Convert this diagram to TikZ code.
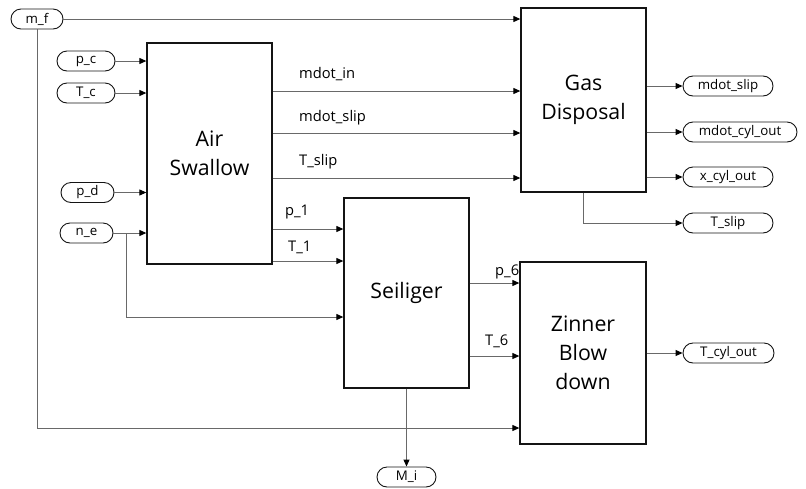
\documentclass[tikz,border=0pt]{standalone}
\usepackage{fontspec}
\setmainfont{Open Sans}
\usepackage{tikz}
\usetikzlibrary{
  arrows.meta,
  positioning,
  calc
}
\definecolor{WireGray}{RGB}{105,105,105}
\definecolor{BoxBlack}{RGB}{20,20,20}
\newcommand{\blocktext}{\fontsize{21.3}{29}\selectfont}
\newcommand{\wiretext}{\fontsize{14.7}{17}\selectfont}
\newcommand{\porttext}{\fontsize{13.3}{16}\selectfont}
\tikzset{
  blocknode/.style={draw=BoxBlack,line width=1.3pt,fill=white,align=center,font=\blocktext,inner sep=0pt},
  portnode/.style={draw=BoxBlack,line width=0.9pt,rounded corners=10pt,minimum height=20pt,inner sep=0pt,align=center,font=\porttext},
  wire/.style={-{Triangle[length=7pt,width=6pt,color=black]},line width=1pt,draw=WireGray},
  wirelabel/.style={font=\wiretext,anchor=base west,inner sep=0pt}
}

\begin{document}
\begin{tikzpicture}[x=1pt,y=-1pt]
\useasboundingbox (0,0) rectangle (806,488);

% blocks
\node[blocknode, minimum width=125pt, minimum height=221pt] (air) at (209.5,153.5) {Air\\Swallow};
\node[blocknode, minimum width=125pt, minimum height=184pt] (gas) at (583.5,100) {Gas\\Disposal};
\node[blocknode, minimum width=125pt, minimum height=190pt] (seil) at (406.5,293) {Seiliger};
\node[blocknode, minimum width=126pt, minimum height=182pt] (zin) at (583,353) {Zinner\\Blow\\down};

% inputs
\node[portnode, minimum width=52pt] (mf) at (37,19) {m\_f};
\node[portnode, minimum width=58pt] (pc) at (86,61) {p\_c};
\node[portnode, minimum width=58pt] (Tc) at (86,93) {T\_c};
\node[portnode, minimum width=53pt] (pd) at (87.5,192.5) {p\_d};
\node[portnode, minimum width=53pt] (ne) at (86.5,233) {n\_e};

% outputs
\node[portnode, minimum width=90pt] (mslip) at (728,86) {mdot\_slip};
\node[portnode, minimum width=114pt] (mcyl) at (740,132) {mdot\_cyl\_out};
\node[portnode, minimum width=90pt] (xcyl) at (728,177) {x\_cyl\_out};
\node[portnode, minimum width=90pt] (Tslip) at (728,223) {T\_slip};
\node[portnode, minimum width=91pt] (Tcyl) at (728.5,353) {T\_cyl\_out};
\node[portnode, minimum width=59pt] (Mi) at (406.5,477) {M\_i};

% port rows
\coordinate (rin) at (0,91);
\coordinate (rslip) at (0,133);
\coordinate (rT) at (0,178);
\coordinate (rp1) at (0,229);
\coordinate (rT1) at (0,261);
\coordinate (rn) at (0,317);
\coordinate (rp6) at (0,283);
\coordinate (rT6) at (0,356);
\coordinate (rmf) at (0,428);
\coordinate (nebr) at (126,233);

\draw[wire] (mf.east) -- (mf.east -| gas.west);
\draw[wire] (mf.south) |- (zin.west |- rmf);

\draw[wire] (pc) -- (pc -| air.west);
\draw[wire] (Tc) -- (Tc -| air.west);
\draw[wire] (pd) -- (pd -| air.west);
\draw[wire] (ne) -- (ne -| air.west);
\draw[wire] (nebr) |- (seil.west |- rn);

\draw[wire] (air.east |- rin) -- node[wirelabel, at start, xshift=26pt, yshift=13pt]{mdot\_in} (gas.west |- rin);
\draw[wire] (air.east |- rslip) -- node[wirelabel, at start, xshift=26pt, yshift=12pt]{mdot\_slip} (gas.west |- rslip);
\draw[wire] (air.east |- rT) -- node[wirelabel, at start, xshift=26pt, yshift=13pt]{T\_slip} (gas.west |- rT);
\draw[wire] (air.east |- rp1) -- node[wirelabel, at start, xshift=12pt, yshift=14pt]{p\_1} (seil.west |- rp1);
\draw[wire] (air.east |- rT1) -- node[wirelabel, at start, xshift=15pt, yshift=10pt]{T\_1} (seil.west |- rT1);

\draw[wire] (seil.east |- rp6) -- node[wirelabel, at start, xshift=25pt, yshift=8pt]{p\_6} (zin.west |- rp6);
\draw[wire] (seil.east |- rT6) -- node[wirelabel, at start, xshift=15pt, yshift=11pt]{T\_6} (zin.west |- rT6);
\draw[wire] (seil.south) -- (Mi.north);

\draw[wire] (gas.east |- mslip) -- (mslip.west);
\draw[wire] (gas.east |- mcyl) -- (mcyl.west);
\draw[wire] (gas.east |- xcyl) -- (xcyl.west);
\draw[wire] (gas.south) |- (Tslip.west);
\draw[wire] (zin.east |- Tcyl) -- (Tcyl.west);
\end{tikzpicture}
\end{document}
